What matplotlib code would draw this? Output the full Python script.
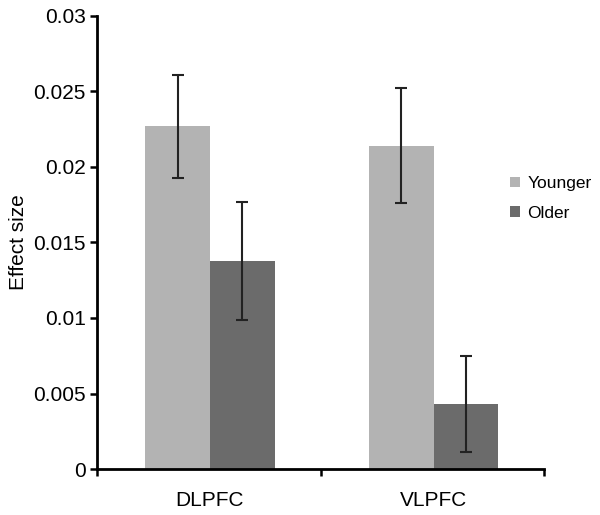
import matplotlib
matplotlib.use("Agg")
import matplotlib.pyplot as plt
import numpy as np

plt.rcParams['font.family'] = ['Liberation Sans', 'DejaVu Sans']

categories = ["DLPFC", "VLPFC"]
series_names = ["Younger", "Older"]
younger = [0.0227, 0.0214]
older = [0.0138, 0.0043]
younger_err = [0.0034, 0.0038]
older_err = [0.0039, 0.0032]
yticks = [0, 0.005, 0.01, 0.015, 0.02, 0.025, 0.03]
ytick_labels = ["0", "0.005", "0.01", "0.015", "0.02", "0.025", "0.03"]

fig = plt.figure(figsize=(6.0, 5.15), dpi=100)
ax = fig.add_axes([0.1617, 0.0893, 0.7453, 0.8797])

x = np.arange(len(categories)) + 0.505
w = 0.29
ekw = dict(elinewidth=1.5, capthick=1.5, ecolor="#222222")
ax.bar(x - w / 2, younger, w, yerr=younger_err, capsize=4.3, color="#b3b3b3",
       label=series_names[0], error_kw=ekw)
ax.bar(x + w / 2, older, w, yerr=older_err, capsize=4.3, color="#6b6b6b",
       label=series_names[1], error_kw=ekw)

ax.set_xlim(0, len(categories))
ax.set_ylim(0, 0.03)
ax.set_xticks(np.arange(len(categories) + 1))
ax.set_xticklabels([])
ax.set_xticks(x, minor=True)
ax.set_xticklabels(categories, minor=True, fontsize=15)
ax.tick_params(axis='x', which='minor', length=0, pad=16)
ax.tick_params(axis='x', which='major', length=5, width=1.8, direction='out')
ax.set_yticks(yticks)
ax.set_yticklabels(ytick_labels, fontsize=15)
ax.tick_params(axis='y', length=5, width=1.8, direction='out', pad=3)

for s in ['top', 'right']:
    ax.spines[s].set_visible(False)
for s in ['left', 'bottom']:
    ax.spines[s].set_linewidth(2)
    ax.spines[s].set_color('black')

ax.set_ylabel("Effect size", fontsize=15, labelpad=4)

ax.legend(loc='center left', bbox_to_anchor=(0.924, 0.597), frameon=False,
          fontsize=12.5, handlelength=0.58, handleheight=0.58, handletextpad=0.4,
          labelspacing=0.85, borderaxespad=0, borderpad=0)

fig.savefig("out.png", dpi=100)
